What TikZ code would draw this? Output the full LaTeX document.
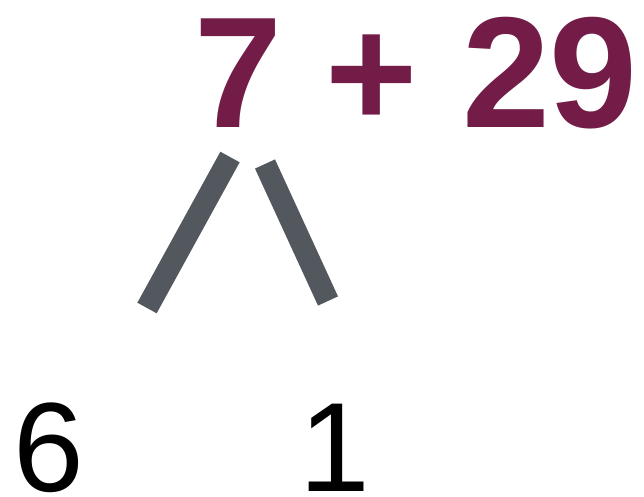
\documentclass[tikz,border=0pt]{standalone}
\usepackage{fontspec}
\setmainfont{Liberation Sans}
\definecolor{plum}{HTML}{731C47}
\definecolor{slate}{HTML}{53575E}
\begin{document}
\begin{tikzpicture}[x=1pt,y=-1pt,
  sumtext/.style={anchor=base west,inner sep=0pt,text=plum,font=\fontsize{158}{158}\selectfont\bfseries},
  parttext/.style={anchor=base west,inner sep=0pt,text=black,font=\fontsize{127}{127}\selectfont},
  branch/.style={draw=slate,line width=22pt}]
\useasboundingbox (0,0) rectangle (644,497);
\node[sumtext] (sum) at (194,128) {7 + 29};
\node[parttext] (six) at (13,491) {6};
\node[parttext] (one) at (299,491) {1};
\coordinate (lt) at (230,157);
\coordinate (lb) at (147,308);
\coordinate (rt) at (265,164);
\coordinate (rb) at (328,301);
\draw[branch] (lt) -- (lb);
\draw[branch] (rt) -- (rb);
\end{tikzpicture}
\end{document}
